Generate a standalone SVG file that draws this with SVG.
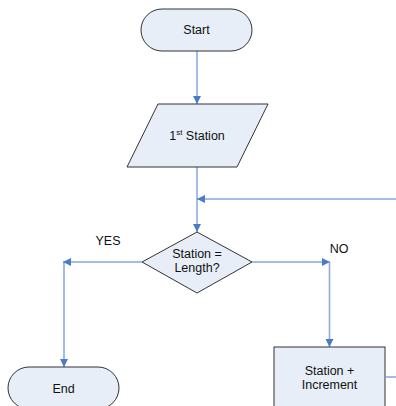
<svg xmlns="http://www.w3.org/2000/svg" width="396" height="406" viewBox="0 0 396 406">
<style>
.shape{fill:#E8EEF8;stroke:#333;stroke-width:1}
.lbl{font-family:"Liberation Sans",Arial,sans-serif;font-size:12.5px;fill:#111;text-anchor:middle}
.conn{fill:none;stroke:#4A7BC8;stroke-width:1}
</style>
<defs>
<marker id="arr" viewBox="0 0 10 10" refX="10" refY="5" markerWidth="8" markerHeight="8" markerUnits="userSpaceOnUse" orient="auto">
<path d="M0,0 L10,5 L0,10 z" fill="#4A7BC8"/>
</marker>
</defs>
<rect width="396" height="406" fill="#fff"/>
<g id="connectors">
<path class="conn" d="M197,51 V104" marker-end="url(#arr)"/>
<path class="conn" d="M197,167 V232" marker-end="url(#arr)"/>
<path class="conn" d="M396,199 H197" marker-end="url(#arr)"/>
<path class="conn" d="M142,262 H63" marker-end="url(#arr)"/>
<path class="conn" d="M64,262 V367" marker-end="url(#arr)"/>
<path class="conn" d="M252,262 H330" marker-end="url(#arr)"/>
<path class="conn" d="M329.5,262 V347" style="stroke:#8FAADC;stroke-width:1.6" marker-end="url(#arr)"/>
<path class="conn" d="M386,377 H396"/>
</g>
<g id="start">
<rect class="shape" x="141" y="9" width="111" height="42" rx="21"/>
<text class="lbl" x="196.5" y="34">Start</text>
</g>
<g id="first-station">
<polygon class="shape" points="158,104 268,104 237,167 127,167"/>
<text class="lbl" x="197" y="139.5">1<tspan font-size="8" dy="-4.5">st</tspan><tspan dy="4.5"> Station</tspan></text>
</g>
<g id="decision">
<polygon class="shape" points="197,232 252,262 197,293 142,262"/>
<text class="lbl" x="197" y="258">Station =</text>
<text class="lbl" x="197" y="272">Length?</text>
</g>
<g id="yes-label"><text class="lbl" x="108" y="245">YES</text></g>
<g id="no-label"><text class="lbl" x="339" y="253">NO</text></g>
<g id="end">
<rect class="shape" x="8" y="367" width="111" height="42" rx="21"/>
<text class="lbl" x="63.5" y="393">End</text>
</g>
<g id="increment">
<rect class="shape" x="274" y="347" width="111" height="70"/>
<text class="lbl" x="329.5" y="375">Station +</text>
<text class="lbl" x="329.5" y="389">Increment</text>
</g>
</svg>
